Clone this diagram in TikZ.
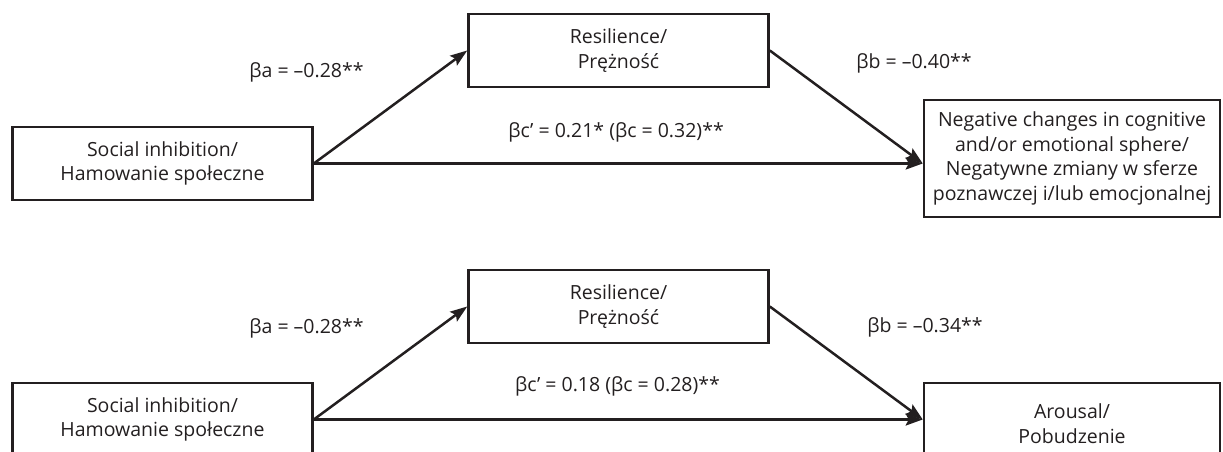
\documentclass[tikz,border=0pt]{standalone}
\usepackage{fontspec}
\setmainfont{Open Sans}
\usetikzlibrary{arrows.meta}
\definecolor{ink}{HTML}{231F20}
\begin{document}
\begin{tikzpicture}[x=1pt,y=-1pt,
  box/.style={draw=ink, line width=2.6pt, rectangle, align=center, inner sep=0pt,
              font=\fontsize{19.5}{24.7}\selectfont, text=ink},
  conn/.style={draw=ink, line width=2.5pt, -{Stealth[length=17pt,width=12pt,inset=3pt]}},
  coef/.style={font=\fontsize{19.5}{24.7}\selectfont, text=ink, inner sep=0pt}]
\useasboundingbox (0,0) rectangle (1223,452);
% top model
\node[box, minimum width=300pt, minimum height=73pt] (L1) at (162.5,163.5)
  {Social inhibition/\\Hamowanie społeczne};
\node[box, minimum width=300pt, minimum height=73pt] (M1) at (618.5,50.5)
  {Resilience/\\Prężność};
\node[box, minimum width=296pt, minimum height=117pt] (R1) at (1072,158.5)
  {Negative changes in cognitive\\and/or emotional sphere/\\Negatywne zmiany w sferze\\poznawczej i/lub emocjonalnej};
\coordinate (T1) at (L1.east -| R1.west);
\draw[conn] (L1.east) -- (M1.west);
\draw[conn] (M1.east) -- (T1);
\draw[conn] (L1.east) -- (T1);
\node[coef] (a1) at (306.5,72) {βa = –0.28**};
\node[coef] (b1) at (914,63) {βb = –0.40**};
\node[coef] (c1) at (616,132) {βc’ = 0.21* (βc = 0.32)**};
% bottom model
\node[box, minimum width=300pt, minimum height=73pt] (L2) at (162.5,419.5)
  {Social inhibition/\\Hamowanie społeczne};
\node[box, minimum width=300pt, minimum height=73pt] (M2) at (618.5,306.5)
  {Resilience/\\Prężność};
\node[box, minimum width=296pt, minimum height=81pt] (R2) at (1072,423.5)
  {Arousal/\\Pobudzenie};
\coordinate (T2) at (L2.east -| R2.west);
\draw[conn] (L2.east) -- (M2.west);
\draw[conn] (M2.east) -- (T2);
\draw[conn] (L2.east) -- (T2);
\node[coef] (a2) at (306.5,328) {βa = –0.28**};
\node[coef] (b2) at (925,327) {βb = –0.34**};
\node[coef] (c2) at (617.5,386) {βc’ = 0.18 (βc = 0.28)**};
\end{tikzpicture}
\end{document}
